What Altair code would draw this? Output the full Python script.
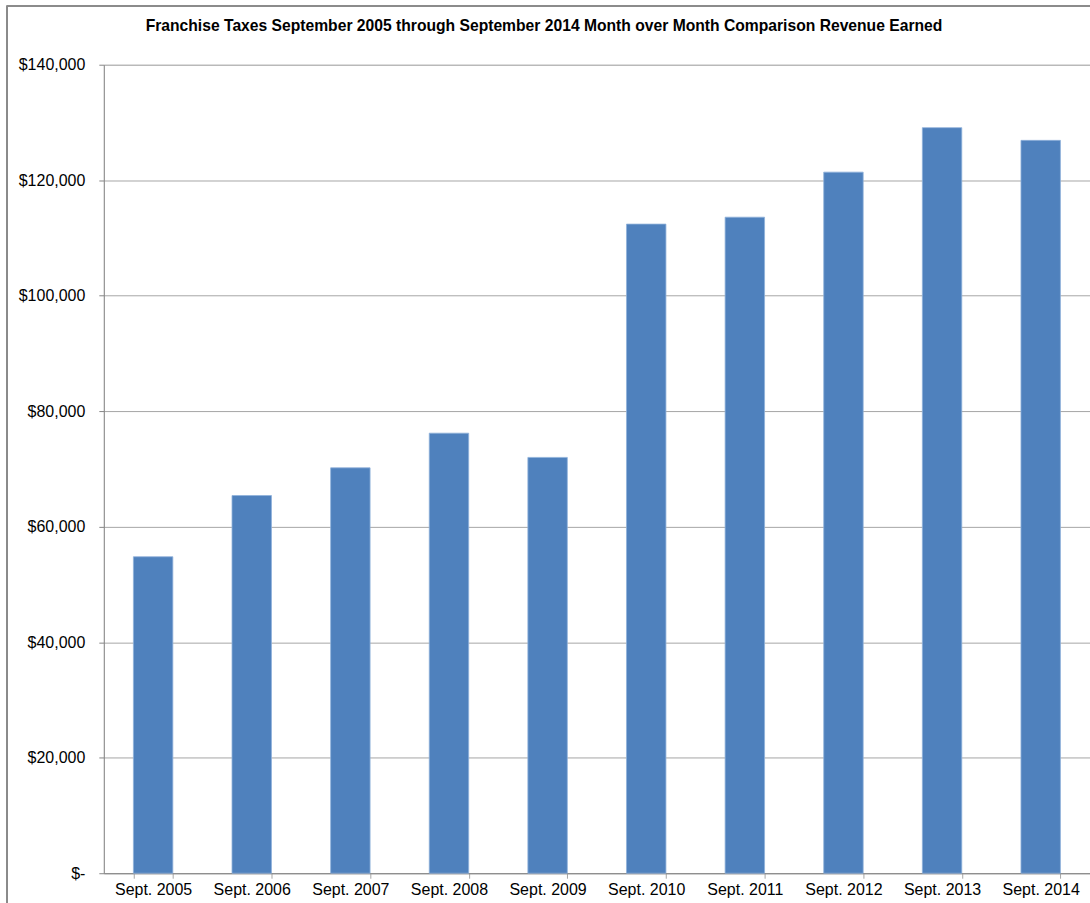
import altair as alt
import pandas as pd

categories = ["Sept. 2005", "Sept. 2006", "Sept. 2007", "Sept. 2008", "Sept. 2009",
              "Sept. 2010", "Sept. 2011", "Sept. 2012", "Sept. 2013", "Sept. 2014"]
revenue = [54800, 65400, 70200, 76200, 72000, 112400, 113600, 121400, 129100, 126900]
y_ticks = [0, 20000, 40000, 60000, 80000, 100000, 120000, 140000]

df = pd.DataFrame({"month": categories, "revenue": revenue})

FONT = "Liberation Sans"

bars = alt.Chart(df).mark_bar(color="#4F81BD", stroke="#8FB1DA", strokeWidth=0.8).encode(
    x=alt.X("month:N", sort=categories,
            scale=alt.Scale(paddingInner=0.6, paddingOuter=0.3),
            axis=alt.Axis(title=None, labelAngle=0, labelFont=FONT, labelFontSize=16,
                          labelColor="#000000", tickBand="extent", tickSize=5,
                          tickColor="#A6A6A6", domainColor="#868686", labelPadding=3,
                          grid=False)),
    y=alt.Y("revenue:Q", scale=alt.Scale(domain=[0, 140000], nice=False),
            axis=alt.Axis(title=None, values=y_ticks, labelFont=FONT, labelFontSize=16,
                          labelColor="#000000", tickSize=5, tickColor="#868686",
                          domainColor="#868686", labelPadding=14,
                          gridColor="#A6A6A6", gridWidth=1,
                          labelExpr="datum.value == 0 ? '$-' : '$' + format(datum.value, ',')")),
)

frame = alt.Chart(df).mark_rect(fill=None, stroke="#8C8C8C", strokeWidth=1).encode(
    x=alt.value(-97), x2=alt.value(1100), y=alt.value(-59), y2=alt.value(900)
)

chart = alt.layer(frame, bars).properties(
    width=988, height=810,
    padding={"left": 104, "top": 64, "right": 0, "bottom": 29},
    autosize=alt.AutoSizeParams(type="none"),
    title=alt.TitleParams(
        "Franchise Taxes September 2005 through September 2014 Month over Month Comparison Revenue Earned",
        font=FONT, fontSize=15.7, fontWeight="bold", color="#000000",
        anchor="middle", frame="group", dx=-53, offset=-29),
).configure_view(stroke=None).configure(background="#FFFFFF")

chart.save("out.html", embed_options={"renderer": "svg", "actions": False})
